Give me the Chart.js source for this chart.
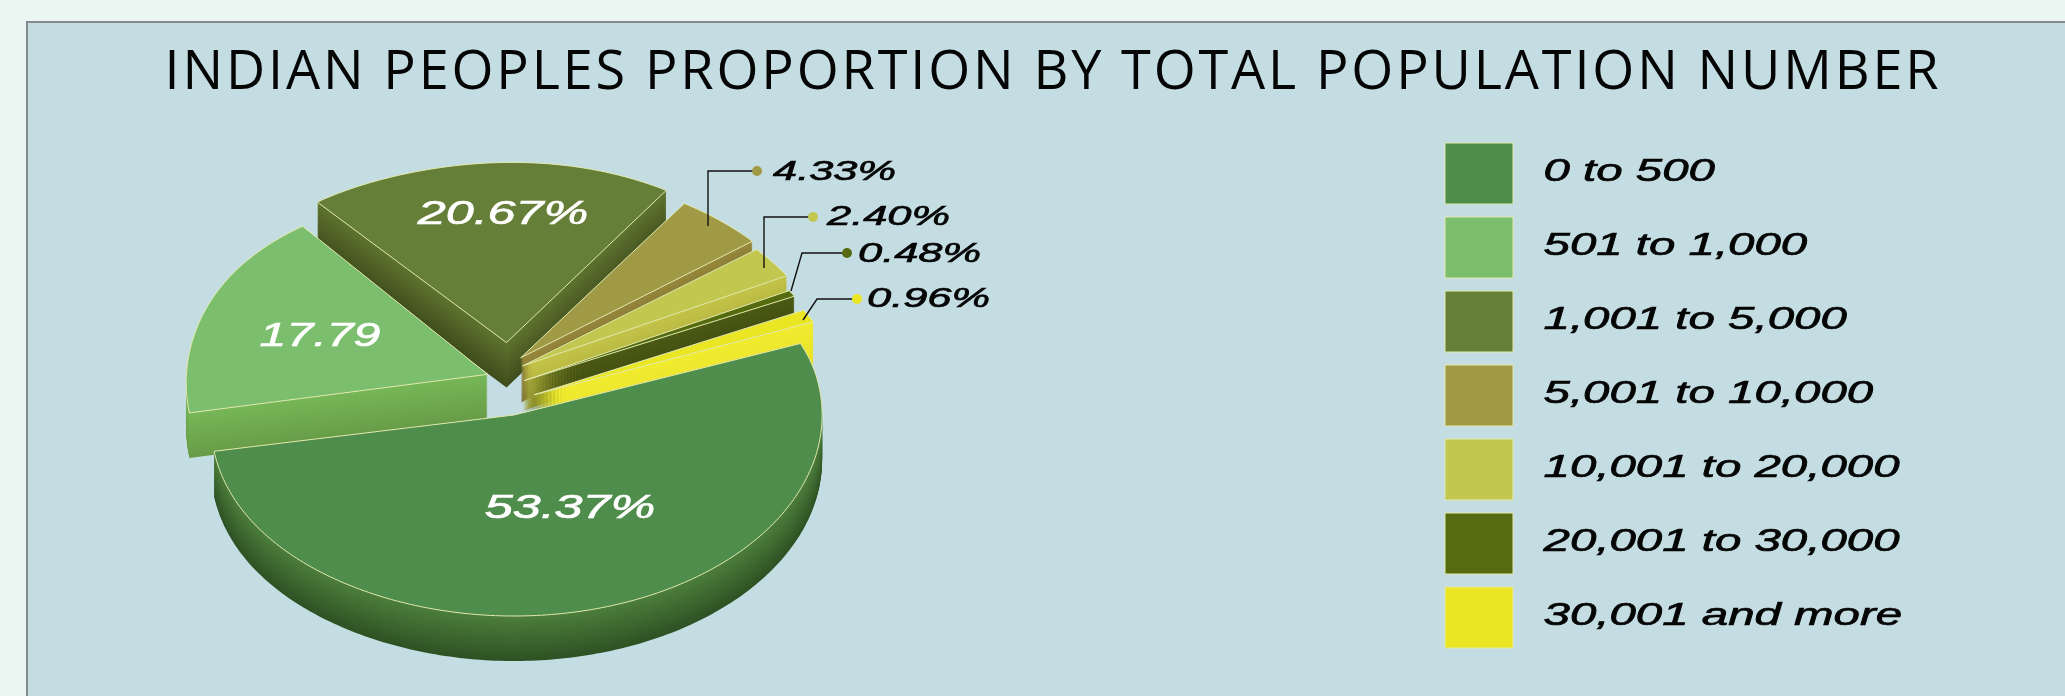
<!DOCTYPE html>
<html>
<head>
<meta charset="utf-8">
<script src="https://cdn.jsdelivr.net/npm/chart.js@4"></script>
<style>
html,body{margin:0;padding:0;width:2065px;height:696px;overflow:hidden;background:#ebf5f2}
#panel{position:absolute;left:26px;top:21px;width:2100px;height:720px;box-sizing:border-box;background:#c4dde2;border:2px solid #88888f}
#wrap{position:absolute;left:26px;top:0;width:2039px;height:696px}
canvas{display:block}
</style>
</head>
<body>
<div id="panel"></div>
<div id="wrap"><canvas id="c" width="2054" height="696" style="width:2054px;height:696px"></canvas></div>
<script>
const titleText = 'INDIAN PEOPLES PROPORTION BY TOTAL POPULATION NUMBER';
const categories = ['0 to 500','501 to 1,000','1,001 to 5,000','5,001 to 10,000','10,001 to 20,000','20,001 to 30,000','30,001 and more'];
const values = [53.37,17.79,20.67,4.33,2.40,0.48,0.96];
const valueLabels = ['53.37%','17.79','20.67%','4.33%','2.40%','0.48%','0.96%'];
const colors = ['#4e8d4c','#7bbe6d','#667f38','#a09a47','#c2c74f','#566b10','#ebe624'];
const sideTop = ['#4d7f3d','#77b758','#5f7430','#97883c','#c4c44a','#4c5a14','#f2ec30'];
const sideBottom = ['#2f5224','#689c48','#3f4e1c','#74652a','#a8aa38','#3a4410','#e6e02a'];
const explode = [54,10,50,38,30,26,36];

const CANVAS_LEFT = 26;
const VIEW = {x0:500, y0:380, ax:1.027, ay:0.67, persp:0.08, shear:0.105, twist:0.06, leftX:6, leftY:8, depth:45, R:300};
const NUDGE = [[0,0],[-3,-3],[5,-4],[-8,-5],[-4,-4],[0,8],[0,24]];

function project(u,v,n){
  const back = Math.max(-v,0)/VIEW.R, b2 = back*back;
  const den = 1 + VIEW.persp*b2;
  const l = Math.max(-u,0)/VIEW.R, l4 = l*l*l*l;
  return [VIEW.x0 + (VIEW.ax*u - VIEW.shear*b2*VIEW.R)/den + VIEW.leftX*l4 + n[0],
          VIEW.y0 + VIEW.ay*v/den - VIEW.twist*u*b2 + VIEW.leftY*l4 + n[1]];
}
function hexMix(a,b,t){
  const p=h=>[1,3,5].map(i=>parseInt(h.substr(i,2),16));
  const A=p(a),B=p(b);
  return 'rgb('+A.map((c,i)=>Math.round(c+(B[i]-c)*t)).join(',')+')';
}
function outline(el,idx){
  const mid=(el.startAngle+el.endAngle)/2, off=el.options.offset||0, nudge=NUDGE[idx];
  const cu=Math.cos(mid)*off, cv=Math.sin(mid)*off, pts=[project(cu,cv,nudge)];
  const n=Math.max(4,Math.ceil((el.endAngle-el.startAngle)*60));
  for(let i=0;i<=n;i++){
    const a=el.startAngle+(el.endAngle-el.startAngle)*i/n;
    pts.push(project(cu+Math.cos(a)*el.outerRadius, cv+Math.sin(a)*el.outerRadius, nudge));
  }
  return pts;
}
function trace(ctx,pts,dy){
  ctx.beginPath();
  pts.forEach((p,i)=> i?ctx.lineTo(p[0],p[1]+dy):ctx.moveTo(p[0],p[1]+dy));
  ctx.closePath();
}

const pie3d = {
  id:'pie3d',
  beforeDatasetDraw(chart,args){
    const ctx=chart.ctx, els=args.meta.data;
    const order=els.map((e,i)=>i).sort((a,b)=>
      Math.sin((els[a].startAngle+els[a].endAngle)/2)-Math.sin((els[b].startAngle+els[b].endAngle)/2));
    ctx.save();
    ctx.translate(-CANVAS_LEFT,0);
    order.forEach(i=>{
      const pts=outline(els[i],i);
      for(let d=VIEW.depth;d>=1;d--){
        ctx.fillStyle=hexMix(sideTop[i],sideBottom[i],d/VIEW.depth);
        trace(ctx,pts,d);
        ctx.fill();
      }
      trace(ctx,pts,0);
      ctx.fillStyle=colors[i];
      ctx.fill();
      ctx.lineWidth=1;
      ctx.strokeStyle=els[i].options.borderColor;
      ctx.lineJoin='round';
      ctx.stroke();
    });
    ctx.restore();
    return false;
  },
  afterDatasetsDraw(chart){
    const ctx=chart.ctx;
    const stretch=(text,x,y,size,color,align,sx)=>{
      ctx.save();
      ctx.font='italic '+size+'px "Liberation Sans"';
      ctx.fillStyle=color;
      ctx.strokeStyle=color;
      ctx.lineWidth=0.7;
      ctx.textBaseline='middle';
      ctx.textAlign=align;
      ctx.translate(x,y);
      ctx.scale(sx,1);
      ctx.fillText(text,0,0);
      ctx.strokeText(text,0,0);
      ctx.restore();
    };
    ctx.save();
    ctx.translate(-CANVAS_LEFT,0);
    stretch(valueLabels[0],570,509,34,'#ffffff','center',1.48);
    stretch(valueLabels[1],320,337,34,'#ffffff','center',1.42);
    stretch(valueLabels[2],503,215,34,'#ffffff','center',1.48);
    const leaders=[
      {i:3,p:[[708,226],[708,171],[757,171]],tx:773,ty:172},
      {i:4,p:[[764,268],[764,217],[813,217]],tx:827,ty:217},
      {i:5,p:[[791,291],[802,253],[847,253]],tx:858,ty:254},
      {i:6,p:[[803,320],[817,299],[857,299]],tx:867,ty:299}
    ];
    leaders.forEach(l=>{
      ctx.beginPath();
      l.p.forEach((q,k)=>k?ctx.lineTo(q[0],q[1]):ctx.moveTo(q[0],q[1]));
      ctx.strokeStyle='#111';ctx.lineWidth=1.4;ctx.stroke();
      const e=l.p[2];
      ctx.beginPath();ctx.arc(e[0],e[1],5,0,Math.PI*2);ctx.fillStyle=colors[l.i];ctx.fill();
      stretch(valueLabels[l.i],l.tx,l.ty,28,'#050505','left',1.55);
    });
    ctx.restore();
  },
  beforeLayout(chart){
    const l=chart.legend;
    if(l&&!l._patched){
      l._patched=true;
      l.draw=function(){
        const ctx=this.ctx, h=this.legendHitBoxes[0];
        const orig=ctx.fillText;
        ctx.save();
        ctx.translate(1445-CANVAS_LEFT-h.left,143-h.top);
        ctx.fillText=function(t,x,y){
          this.save();
          this.translate(x+15,y-1.5);
          this.scale(1.53,1);
          orig.call(this,t,0,0);
          this.strokeStyle=this.fillStyle;
          this.lineWidth=0.7;
          this.strokeText(t,0,0);
          this.restore();
        };
        this._draw();
        delete ctx.fillText;
        ctx.restore();
      };
    }
    const t=chart.titleBlock;
    if(t&&!t._patched){
      t._patched=true;
      const d=t.draw.bind(t);
      t.draw=function(){
        const ctx=this.ctx;
        ctx.save();
        ctx.letterSpacing='2.85px';
        d();
        ctx.restore();
      };
    }
  }
};

new Chart(document.getElementById('c'),{
  type:'pie',
  data:{labels:categories,datasets:[{
    data:values,
    backgroundColor:colors,
    borderColor:'#e2e9ad',
    borderWidth:1,
    offset:explode
  }]},
  options:{
    responsive:false,
    animation:false,
    rotation:69.3,
    radius:VIEW.R,
    plugins:{
      tooltip:{enabled:false},
      title:{display:true,text:titleText,color:'#050505',
        font:{family:'Open Sans',size:54,weight:'normal'},
        padding:{top:41,bottom:10}},
      legend:{display:true,position:'right',align:'start',
        labels:{color:'#050505',boxWidth:68,boxHeight:61,padding:13,
          font:{family:'Liberation Sans',style:'italic',size:31}}}
    }
  },
  plugins:[pie3d]
});
</script>
</body>
</html>
